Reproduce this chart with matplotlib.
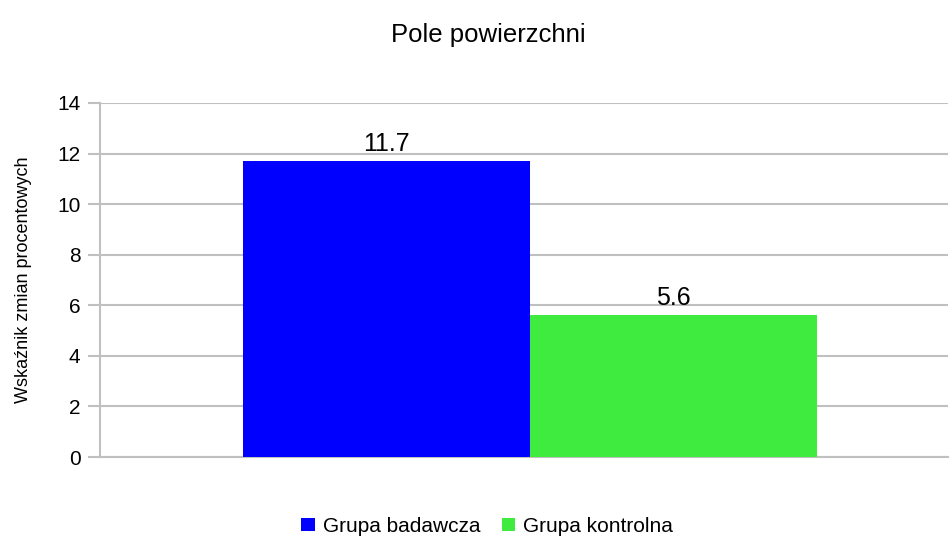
import numpy as np
import matplotlib
matplotlib.use("Agg")
import matplotlib.pyplot as plt

plt.rcParams['font.family'] = ['Liberation Sans', 'DejaVu Sans']

# dane
groups = ['Grupa badawcza', 'Grupa kontrolna']
values = [11.7, 5.6]
colors = ['#0000ff', '#3eeb3e']
yticks = [0, 2, 4, 6, 8, 10, 12, 14]

fig = plt.figure(figsize=(9.5, 5.4), dpi=100)
ax = fig.add_axes([0.1053, 0.1537, 0.8925, 0.6556])

w = 0.34
offsets = [-w / 2, w / 2]
for g, v, c, off in zip(groups, values, colors, offsets):
    ax.bar(off, v, width=w, color=c, label=g, zorder=3)
    ax.text(off, v + 0.2, str(v), ha='center', va='bottom', fontsize=18)

ax.set_xlim(-0.51, 0.495)
ax.set_ylim(0, 14)
ax.set_yticks(yticks)
ax.set_xticks([])
ax.tick_params(axis='y', labelsize=15, length=9, color='#c0c0c0', width=1.5, pad=5)
ax.grid(axis='y', color='#c0c0c0', linewidth=1.5, zorder=0)
for s in ['top', 'right']:
    ax.spines[s].set_visible(False)
for s in ['left', 'bottom']:
    ax.spines[s].set_color('#c0c0c0')
    ax.spines[s].set_linewidth(1.5)

ax.set_ylabel('Wskaźnik zmian procentowych', fontsize=13, labelpad=18)
fig.suptitle('Pole powierzchni', fontsize=18.5, x=0.514, y=0.958)

fig.legend(loc='lower center', bbox_to_anchor=(0.513, -0.027), ncol=2, frameon=False,
           fontsize=15, handlelength=0.65, handleheight=0.65, handletextpad=0.4,
           columnspacing=1.0)

plt.savefig('out.png', dpi=100)
